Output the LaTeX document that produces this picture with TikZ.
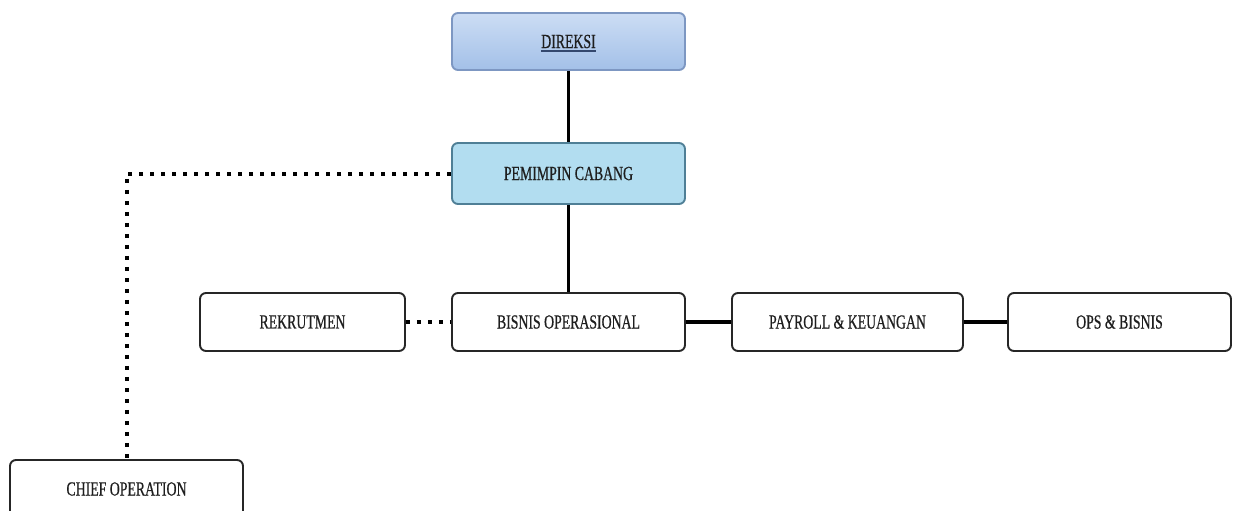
\documentclass[tikz,border=0pt]{standalone}
\usepackage{fontspec}
\newfontfamily\condfont[FakeStretch=0.69,FakeBold=0.6]{Liberation Serif}
\definecolor{txt}{HTML}{1E1E1E}
\definecolor{dirtop}{HTML}{CCDDF4}
\definecolor{dirbot}{HTML}{A3C0E8}
\definecolor{dirborder}{HTML}{7D97C2}
\definecolor{pcfill}{HTML}{B2DDF0}
\definecolor{pcborder}{HTML}{4F7F96}
\definecolor{ulblue}{HTML}{34486E}
\begin{document}
\begin{tikzpicture}[x=1pt,y=-1pt,
  box/.style={draw=black!85,line width=1.9pt,rounded corners=6pt,fill=white,
    minimum height=58pt,inner sep=0pt,font=\condfont\fontsize{20}{23}\selectfont,text=txt},
  solidcon/.style={line width=3.4pt,black},
  dotcon/.style={line width=4pt,black,dash pattern=on 4pt off 7pt}]
\useasboundingbox (0,0) rectangle (1239,511);
\clip (0,0) rectangle (1239,511);
% nodes
\node[box,draw=dirborder,top color=dirtop,bottom color=dirbot,minimum width=233pt,minimum height=57pt] (dir) at (568.5,41.5)
  {DIREKSI};
\node[box,draw=pcborder,fill=pcfill,minimum width=233pt,minimum height=61pt] (pc) at (568.5,173.5) {PEMIMPIN CABANG};
\node[box,minimum width=205pt] (rek) at (302.5,322) {REKRUTMEN};
\node[box,minimum width=233pt] (bis) at (568.5,322) {BISNIS OPERASIONAL};
\node[box,minimum width=231pt] (pay) at (847.5,322) {PAYROLL \& KEUANGAN};
\node[box,minimum width=223pt] (ops) at (1119.5,322) {OPS \& BISNIS};
\node[box,minimum width=233pt] (chief) at (126.5,489) {CHIEF OPERATION};
% underline of DIREKSI
\draw[ulblue,line width=2pt] ([xshift=-27.5pt,yshift=-10pt]dir.center) -- ([xshift=27.5pt,yshift=-10pt]dir.center);
% connectors
\draw[solidcon] (dir.south) -- (pc.north);
\draw[solidcon] (pc.south) -- (bis.north);
\draw[solidcon] (bis.east) -- (pay.west);
\draw[solidcon] (pay.east) -- (ops.west);
\draw[dotcon] (rek.east) -- (bis.west);
\draw[dotcon] (pc.west) -| (chief.north);
\end{tikzpicture}
\end{document}
